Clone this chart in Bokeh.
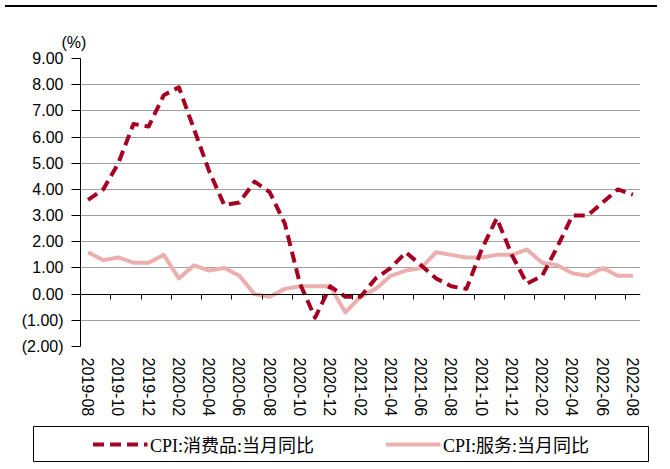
from bokeh.plotting import figure
from bokeh.models import (Range1d, LinearAxis, FixedTicker, CustomJSTickFormatter,
                          Legend, LegendItem, Title, Div, ColumnDataSource)
from bokeh.layouts import column, row
from bokeh.embed import file_html
from bokeh.resources import INLINE

months = ["2019-08", "2019-09", "2019-10", "2019-11", "2019-12",
          "2020-01", "2020-02", "2020-03", "2020-04", "2020-05", "2020-06",
          "2020-07", "2020-08", "2020-09", "2020-10", "2020-11", "2020-12",
          "2021-01", "2021-02", "2021-03", "2021-04", "2021-05", "2021-06",
          "2021-07", "2021-08", "2021-09", "2021-10", "2021-11", "2021-12",
          "2022-01", "2022-02", "2022-03", "2022-04", "2022-05", "2022-06",
          "2022-07", "2022-08"]

goods = [3.6, 4.0, 5.0, 6.5, 6.4, 7.6, 7.9, 6.3, 4.7, 3.4, 3.5, 4.3, 3.9,
         2.7, 0.4, -0.9, 0.3, -0.1, -0.1, 0.6, 1.0, 1.6, 1.1, 0.6, 0.3,
         0.2, 1.7, 2.9, 1.5, 0.4, 0.7, 1.8, 3.0, 3.0, 3.5, 4.0, 3.8]

services = [1.6, 1.3, 1.4, 1.2, 1.2, 1.5, 0.6, 1.1, 0.9, 1.0, 0.7, 0.0, -0.1,
            0.2, 0.3, 0.3, 0.3, -0.7, -0.1, 0.2, 0.7, 0.9, 1.0, 1.6, 1.5,
            1.4, 1.4, 1.5, 1.5, 1.7, 1.2, 1.1, 0.8, 0.7, 1.0, 0.7, 0.7]

y_ticks = [-2, -1, 0, 1, 2, 3, 4, 5, 6, 7, 8, 9]

label_goods = "CPI:消费品:当月同比"
label_services = "CPI:服务:当月同比"
unit_text = "(%)"

GOODS_COLOR = "#A50021"
SERV_COLOR = "#EBB0AE"
TICK_FONT = "Liberation Sans"

n = len(months)
xs = [i + 0.5 for i in range(n)]
src = ColumnDataSource(dict(x=xs, goods=goods, services=services))

p = figure(width=652, height=407, x_range=Range1d(0, n), y_range=Range1d(y_ticks[0], y_ticks[-1]),
           x_axis_type=None, output_backend="svg", toolbar_location=None,
           min_border_left=80, min_border_right=12, min_border_top=46, min_border_bottom=70,
           outline_line_color=None, background_fill_color="white", border_fill_color="white")

# y axis
p.yaxis.ticker = FixedTicker(ticks=y_ticks)
p.yaxis.formatter = CustomJSTickFormatter(
    code="return tick < 0 ? '(' + Math.abs(tick).toFixed(2) + ')' : tick.toFixed(2);")
p.yaxis.axis_line_color = "black"
p.yaxis.major_tick_line_color = "black"
p.yaxis.major_tick_out = 9
p.yaxis.major_tick_in = 0
p.yaxis.minor_tick_line_color = None
p.yaxis.major_label_standoff = 8
p.yaxis.major_label_text_font = TICK_FONT
p.yaxis.major_label_text_font_size = "16px"
p.yaxis.major_label_text_color = "black"

p.ygrid.ticker = FixedTicker(ticks=y_ticks)
p.ygrid.grid_line_color = "#404040"
p.ygrid.grid_line_dash = "1 1"
p.ygrid.grid_line_width = 1

# month labels (every other month) at the bottom
lab_axis = LinearAxis(
    ticker=FixedTicker(ticks=xs[::2]),
    formatter=CustomJSTickFormatter(args=dict(labels=months),
                                    code="return labels[Math.round(tick - 0.5)];"),
    axis_line_color=None, major_tick_line_color=None, minor_tick_line_color=None,
    major_label_orientation="vertical", major_label_standoff=5,
    major_label_text_font=TICK_FONT, major_label_text_font_size="16px",
    major_label_text_color="black")
p.add_layout(lab_axis, "below")

# axis line with tick marks crossing at zero
zero_axis = LinearAxis(
    fixed_location=0,
    ticker=FixedTicker(ticks=list(range(0, n, 2))),
    axis_line_color="black", axis_line_width=1,
    major_tick_line_color="black", major_tick_out=5, major_tick_in=0,
    minor_tick_line_color=None, major_label_text_color=None,
    major_label_text_font_size="1px", major_label_standoff=0)
p.add_layout(zero_axis, "below")

p.line("x", "services", source=src, line_color=SERV_COLOR, line_width=4, line_join="round")
p.line("x", "goods", source=src, line_color=GOODS_COLOR, line_width=4,
       line_dash="11 6", line_join="round")

p.add_layout(Title(text=unit_text, align="left", offset=-19, standoff=16,
                   text_font=TICK_FONT, text_font_size="16px", text_font_style="normal",
                   text_color="black"), "above")

# legend in a boxed strip below
lf = figure(width=617, height=37, x_range=Range1d(-10, -9), y_range=Range1d(-10, -9),
            x_axis_location=None, y_axis_location=None, toolbar_location=None,
            output_backend="svg", min_border=1, min_border_left=1, min_border_right=1,
            min_border_top=1, min_border_bottom=1, outline_line_color="black",
            outline_line_width=1, background_fill_color="white", border_fill_color="white")
lf.grid.visible = False
r_g = lf.line("x", "goods", source=src, line_color=GOODS_COLOR, line_width=4, line_dash="11 6")
r_s = lf.line("x", "services", source=src, line_color=SERV_COLOR, line_width=4)
legend = Legend(items=[LegendItem(label=label_goods, renderers=[r_g]),
                       LegendItem(label=label_services, renderers=[r_s])],
                orientation="horizontal", location="center",
                border_line_color=None, background_fill_alpha=0, padding=0, margin=0,
                spacing=71, glyph_width=55, glyph_height=20, label_standoff=3,
                label_text_font="Liberation Serif, Noto Sans CJK SC",
                label_text_font_size="18px", label_text_color="black")
lf.add_layout(legend)

top_line = Div(text="", width=652, height=2, styles={"background-color": "black"})

legend_row = row(lf, margin=(6, 0, 0, 32))

layout = column(top_line, p, legend_row, spacing=0)

open("out.html", "w").write(file_html(layout, INLINE))
